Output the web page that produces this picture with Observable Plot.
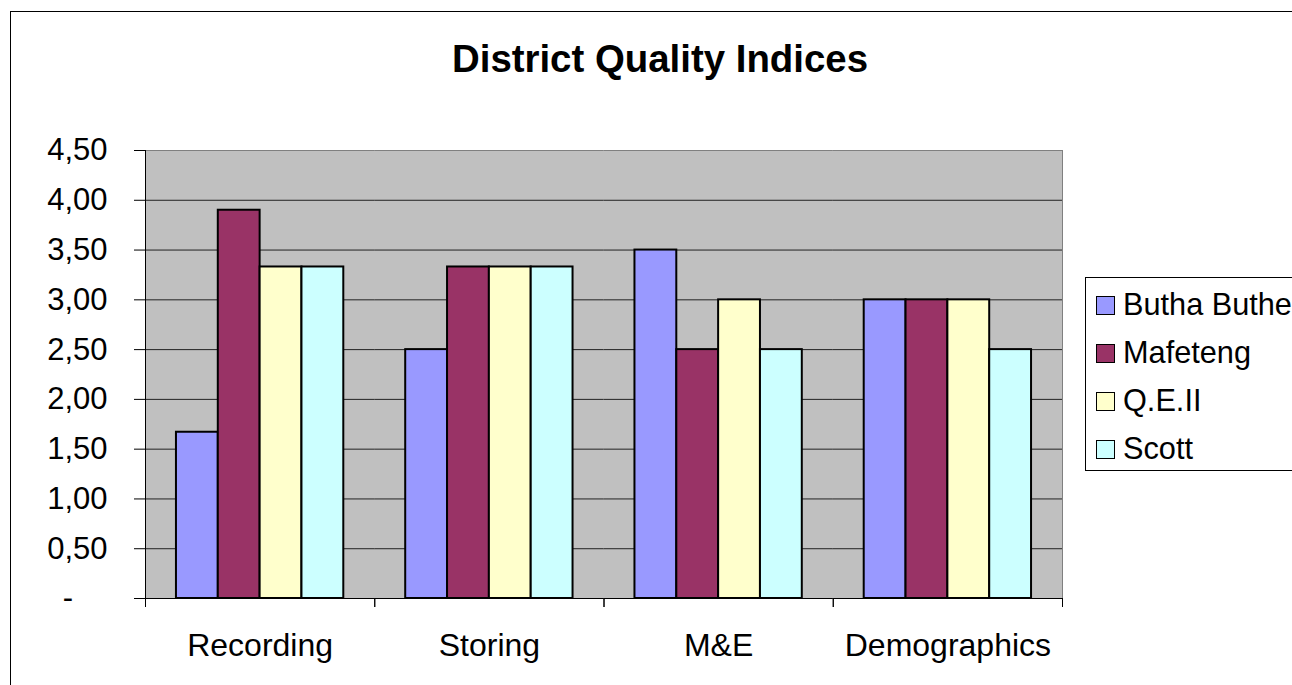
<!DOCTYPE html>
<html><head><meta charset="utf-8">
<script src="https://cdn.jsdelivr.net/npm/d3@7"></script>
<script src="https://cdn.jsdelivr.net/npm/@observablehq/plot@0.6"></script>
<style>
body{margin:0;background:#fff;font-family:Arial,"Liberation Sans",sans-serif;overflow:hidden}
#wrap{position:relative;width:1292px;height:685px;overflow:hidden}
#border{position:absolute;left:10px;top:11px;width:1400px;height:800px;border:1px solid #000}
#title{position:absolute;left:0;width:1320px;top:37px;text-align:center;font-weight:bold;font-size:38.4px;line-height:44px;color:#000}
#chart{position:absolute;left:0;top:0}
#legend{position:absolute;left:1085px;top:277px;width:300px;height:192px;border:1px solid #000;background:#fff}
.row{position:absolute;left:0;height:48px;display:flex;align-items:center;font-size:30.7px;color:#000}
.sw{width:19px;height:19px;border:1px solid #000;margin-left:10px;margin-right:8px;box-sizing:border-box}
</style></head>
<body><div id="wrap">
<div id="border"></div>
<div id="chart"></div>
<div id="title">District Quality Indices</div>
<div id="legend"></div>
</div>
<script>
const categories = ["Recording", "Storing", "M&E", "Demographics"];
const series = ["Butha Buthe", "Mafeteng", "Q.E.II", "Scott"];
const colors = ["#9999FF", "#993366", "#FFFFCC", "#CCFFFF"];
const buthaButhe = [1.67, 2.5, 3.5, 3.0];
const mafeteng = [3.9, 3.33, 2.5, 3.0];
const qeII = [3.33, 3.33, 3.0, 3.0];
const scott = [3.33, 3.33, 2.5, 2.5];
const yTicks = [0, 0.5, 1, 1.5, 2, 2.5, 3, 3.5, 4, 4.5];

const values = [buthaButhe, mafeteng, qeII, scott];
const data = categories.flatMap((c, i) => series.map((s, j) => ({category: c, series: s, value: values[j][i]})));

const fmt = d => d === 0 ? "-\u00a0\u00a0\u00a0\u00a0" : d.toFixed(2).replace(".", ",");

const chart = Plot.plot({
  width: 1292, height: 685,
  marginTop: 150, marginLeft: 145, marginRight: 230, marginBottom: 87,
  style: {fontFamily: "Arial, 'Liberation Sans', sans-serif", fontSize: "31px", color: "#000", background: "transparent"},
  fx: {domain: categories, padding: 0, label: null, round: false},
  x: {domain: series, paddingInner: 0, paddingOuter: 0.74, axis: null, round: false},
  y: {domain: [0, 4.5], label: null},
  color: {domain: series, range: colors},
  marks: [
    Plot.frame({fill: "#c0c0c0", stroke: "#c0c0c0"}),
    Plot.ruleY(yTicks.filter(d => d > 0 && d < 4.5), {stroke: "#222", strokeWidth: 1}),
    Plot.ruleY([4.5], {stroke: "#808080", strokeWidth: 1}),
    Plot.frame({anchor: "right", facetAnchor: "right", stroke: "#808080"}),
    Plot.barY(data, {fx: "category", x: "series", y: "value", fill: "series", stroke: "#000", strokeWidth: 2}),
    Plot.frame({anchor: "left", facetAnchor: "left", stroke: "#000"}),
    Plot.ruleY([0], {stroke: "#000", strokeWidth: 1}),
    Plot.frame({anchor: "left", insetTop: 448, insetBottom: -8, stroke: "#000"}),
    Plot.frame({anchor: "right", insetTop: 448, insetBottom: -8, stroke: "#000"}),
    Plot.axisY({ticks: yTicks, tickFormat: fmt, tickSize: 11, tickPadding: 27, fontSize: 31, label: null, stroke: "#000"}),
    Plot.axisFx({anchor: "bottom", tickSize: 0, tickPadding: 35, fontSize: 32, label: null})
  ]
});
document.getElementById("chart").appendChild(chart);

const legend = document.getElementById("legend");
series.forEach((s, i) => {
  const row = document.createElement("div");
  row.className = "row";
  row.style.top = (3 + i * 48) + "px";
  const sw = document.createElement("div");
  sw.className = "sw";
  sw.style.background = colors[i];
  const t = document.createElement("span");
  t.textContent = s;
  row.appendChild(sw); row.appendChild(t);
  legend.appendChild(row);
});
</script>
</body></html>
